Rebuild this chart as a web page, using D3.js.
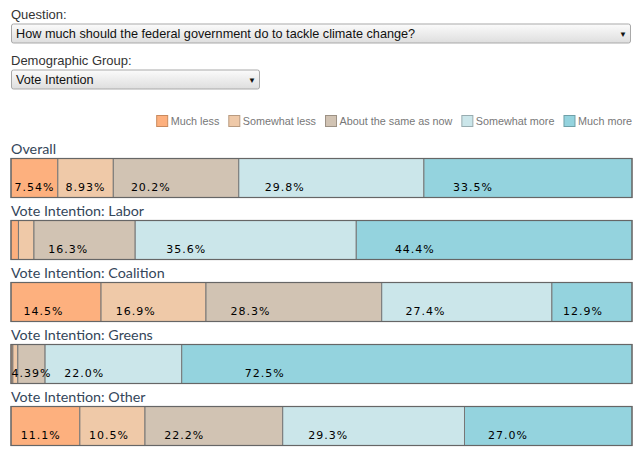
<!DOCTYPE html>
<html>
<head>
<meta charset="utf-8">
<script src="https://cdn.jsdelivr.net/npm/d3@7"></script>
<style>
  html, body { margin: 0; padding: 0; background: #fff; }
  svg { display: block; }
</style>
</head>
<body>
<svg id="chart" width="640" height="458"></svg>
<script>
// ---- Data ----
const categories = ["Much less", "Somewhat less", "About the same as now", "Somewhat more", "Much more"];
const groups = ["Overall", "Vote Intention: Labor", "Vote Intention: Coalition", "Vote Intention: Greens", "Vote Intention: Other"];
const muchLess     = [7.54, 1.2, 14.5, 0.3, 11.1];
const somewhatLess = [8.93, 2.5, 16.9, 0.8, 10.5];
const aboutSame    = [20.2, 16.3, 28.3, 4.39, 22.2];
const somewhatMore = [29.8, 35.6, 27.4, 22.0, 29.3];
const muchMore     = [33.5, 44.4, 12.9, 72.5, 27.0];
const questionText = "How much should the federal government do to tackle climate change?";
const groupText = "Vote Intention";

const series = [muchLess, somewhatLess, aboutSame, somewhatMore, muchMore];
const colors = ["#fdb07e", "#efc9a8", "#d1c3b3", "#cbe6ea", "#94d3de"];
const borders = ["#c98a5e", "#b99b80", "#9c9184", "#98acb0", "#6fa0a8"];

const rows = groups.map((g, i) => {
  const o = { group: g };
  categories.forEach((c, j) => o[c] = series[j][i]);
  o.total = d3.sum(series, s => s[i]);
  return o;
});

const svg = d3.select("#chart");
const labelFont = "'Liberation Sans', Arial, sans-serif";

// ---- Controls (drawn) ----
const defs = svg.append("defs");
const grad = defs.append("linearGradient").attr("id", "selgrad").attr("x1", 0).attr("y1", 0).attr("x2", 0).attr("y2", 1);
grad.append("stop").attr("offset", "0%").attr("stop-color", "#fbfbfb");
grad.append("stop").attr("offset", "100%").attr("stop-color", "#dedede");

function control(label, value, y, w) {
  svg.append("text").attr("x", 11).attr("y", y).attr("font-family", labelFont)
    .attr("font-size", 13).attr("fill", "#333").text(label);
  svg.append("rect").attr("x", 11.5).attr("y", y + 5.5).attr("width", w).attr("height", 19)
    .attr("rx", 2).attr("fill", "url(#selgrad)").attr("stroke", "#a9a9a9");
  svg.append("text").attr("x", 16).attr("y", y + 19.5).attr("font-family", labelFont)
    .attr("font-size", 12.7).attr("fill", "#111").text(value);
  svg.append("text").attr("x", 11 + w - 11).attr("y", y + 18).attr("font-family", labelFont)
    .attr("font-size", 8).attr("fill", "#111").text("\u25BC");
}
control("Question:", questionText, 18.5, 619);
control("Demographic Group:", groupText, 64.5, 248);

// ---- Legend (right-aligned to the bars) ----
const legend = svg.append("g").attr("font-family", labelFont).attr("font-size", 10.8);
const items = categories.map((c, j) => {
  const t = legend.append("text").attr("y", 125).attr("fill", "#777").text(c);
  return { t, w: t.node().getComputedTextLength(), j };
});
const sqW = 11, sqGap = 3.5, itemGap = 9;
const totalW = d3.sum(items, d => sqW + sqGap + d.w) + itemGap * (items.length - 1);
let lx = 632 - totalW;
items.forEach(d => {
  legend.append("rect").attr("x", lx + 0.5).attr("y", 115.5).attr("width", sqW).attr("height", sqW)
    .attr("fill", colors[d.j]).attr("stroke", borders[d.j]);
  d.t.attr("x", lx + sqW + sqGap);
  lx += sqW + sqGap + d.w + itemGap;
});

// ---- Bars ----
const x0 = 11, x1 = 632;
const step = 62, barH = 39;
const y = d3.scaleBand().domain(groups)
  .range([158, 158 + step * groups.length - (step - barH)])
  .paddingInner((step - barH) / step).paddingOuter(0).align(0);
const stack = d3.stack().keys(categories);
const stacked = stack(rows);

const bars = svg.append("g");
groups.forEach((g, i) => {
  const row = rows[i];
  const x = d3.scaleLinear().domain([0, row.total]).range([x0, x1]);
  const top = y(g), h = y.bandwidth();
  svg.append("text").attr("x", 11).attr("y", top - 4)
    .attr("font-family", "Lato, 'Open Sans', sans-serif").attr("font-size", 14.3)
    .attr("fill", "#34465a").text(g);
  stacked.forEach((layer, j) => {
    const d = layer[i];
    bars.append("rect")
      .attr("x", x(d[0])).attr("y", top + 0.5)
      .attr("width", x(d[1]) - x(d[0])).attr("height", h)
      .attr("fill", colors[j]).attr("stroke", "#777").attr("stroke-width", 1);
  });
});
// outer frames
groups.forEach((g) => {
  bars.append("rect").attr("x", x0).attr("y", y(g) + 0.5).attr("width", x1 - x0).attr("height", y.bandwidth())
    .attr("fill", "none").attr("stroke", "#666").attr("stroke-width", 1.2);
});
// value labels
const labels = svg.append("g").attr("font-family", "'DejaVu Sans', Verdana, sans-serif")
  .attr("font-size", 11).attr("letter-spacing", "1px").attr("fill", "#000");
groups.forEach((g, i) => {
  const row = rows[i];
  const x = d3.scaleLinear().domain([0, row.total]).range([x0, x1]);
  const bottom = y(g) + y.bandwidth();
  stacked.forEach((layer, j) => {
    const v = series[j][i];
    if (v < 3) return;
    const d = layer[i];
    const s = x(d[0]), w = x(d[1]) - x(d[0]);
    const str = (v < 10 ? d3.format(".3r")(v) : d3.format(".1f")(v)) + "%";
    const t = labels.append("text").attr("y", bottom - 6).text(str);
    const tw = t.node().getComputedTextLength();
    t.attr("x", s + Math.min(w * 0.14, (w - tw) / 2));
  });
});
</script>
</body>
</html>
